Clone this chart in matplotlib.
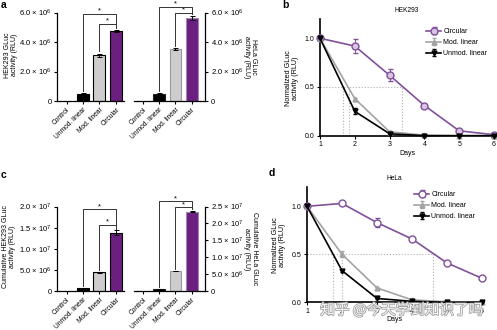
import numpy as np
import matplotlib
matplotlib.use('Agg')
import matplotlib.pyplot as plt
from matplotlib.ticker import FuncFormatter
import matplotlib.patheffects as pe

plt.rcParams['font.family'] = ['Liberation Sans', 'DejaVu Sans']
plt.rcParams['mathtext.fontset'] = 'custom'
plt.rcParams['mathtext.rm'] = 'Liberation Sans'
plt.rcParams['mathtext.default'] = 'regular'
plt.rcParams['axes.linewidth'] = 0.9

# ---- data ----
categories = ['Control', 'Unmod. linear', 'Mod. linear', 'Circular']
hek_act = [0, 0.50e6, 3.09e6, 4.75e6]
hek_act_err = [0, 0.03e6, 0.12e6, 0.06e6]
hela_act = [0, 0.50e6, 3.53e6, 5.64e6]
hela_act_err = [0, 0.03e6, 0.05e6, 0.12e6]
hek_cum = [0, 0.63e6, 4.45e6, 1.375e7]
hek_cum_err = [0, 0.03e6, 0.12e6, 0.6e6]
hela_cum = [0, 0.62e6, 5.9e6, 2.35e7]
hela_cum_err = [0, 0.03e6, 0.12e6, 0.2e6]

days = [1, 2, 3, 4, 5, 6]
hek_circ = [1.0, 0.92, 0.62, 0.31, 0.05, 0.01]
hek_circ_err = [0, 0.07, 0.06, 0.01, 0.01, 0]
hek_mod = [1.0, 0.38, 0.04, 0.005, 0.0, 0.0]
hek_mod_err = [0, 0.01, 0.005, 0, 0, 0]
hek_unmod = [1.0, 0.25, 0.02, 0.0, 0.0, 0.0]
hek_unmod_err = [0, 0.03, 0.005, 0, 0, 0]
hek_half = [1.65, 1.83, 3.37]      # unmod, mod, circular half-life (days)

hela_circ = [1.0, 1.03, 0.83, 0.66, 0.41, 0.25]
hela_circ_err = [0, 0.01, 0.05, 0.01, 0.01, 0.01]
hela_mod = [1.0, 0.50, 0.15, 0.025, 0.005, 0.0]
hela_mod_err = [0, 0.03, 0.01, 0.005, 0, 0]
hela_unmod = [1.0, 0.33, 0.04, 0.01, 0.0, 0.0]
hela_unmod_err = [0, 0.01, 0.005, 0, 0, 0]
hela_half = [1.73, 2.01, 4.59]

W, H = 497, 330
fig = plt.figure(figsize=(W/100, H/100), dpi=100)

def px_axes(x0, y0, x1, y1):
    return fig.add_axes([x0/W, 1-y1/H, (x1-x0)/W, (y1-y0)/H])

def sci(v, pos):
    if v == 0:
        return '0'
    e = int(np.floor(np.log10(v) + 1e-9))
    return '%.1f \u00d7 10$^{%d}$' % (v/10**e, e)

purple = '#6b1f7f'
line_purple = '#80509a'
fs_bar = 5.5
fs_small = 5.0

def bar_panel(ax, vals, errs, ymax, step, right=False, brackets=(0.95, 0.82)):
    x = np.arange(len(categories))
    if right:
        edges = ['#222222', '#9a9a9a', '#a884b6']
    else:
        edges = ['black', 'black', 'black']
    colors = ['white', 'black', '#cdcdcd', purple]
    ax.bar(x, vals, width=0.72, color=colors,
           edgecolor=['white'] + edges, linewidth=0.8, zorder=2)
    ax.errorbar(x[1:], vals[1:], yerr=errs[1:], fmt='none', ecolor='black',
                elinewidth=0.7, capsize=1.8, capthick=0.7, zorder=3)
    ax.set_ylim(0, ymax)
    ax.set_yticks(np.arange(0, ymax + 1, step))
    ax.yaxis.set_major_formatter(FuncFormatter(sci))
    ax.set_xticks(x)
    ax.set_xticklabels(categories, rotation=45, ha='right', rotation_mode='anchor',
                       fontsize=4.8)
    ax.tick_params(axis='y', labelsize=fs_bar, length=2.5, width=0.8, pad=1.5)
    ax.tick_params(axis='x', length=2.5, width=0.8, pad=1.2)
    ax.spines['top'].set_visible(False)
    if right:
        ax.spines['left'].set_visible(False)
        ax.yaxis.tick_right()
        ax.set_xlim(-0.55, 3.82)
    else:
        ax.spines['right'].set_visible(False)
        ax.set_xlim(-0.58, 3.5)
    # significance brackets
    hi, lo = brackets
    for (i, h) in [(1, hi), (2, lo)]:
        y_top = h * ymax
        yl = vals[i] + errs[i] + 0.025 * ymax
        yr = vals[3] + errs[3] + 0.02 * ymax
        ax.plot([i, i, 3, 3], [yl, y_top, y_top, yr], color='#333333',
                lw=0.7, clip_on=False, zorder=4)
        ax.text((i + 3) / 2, y_top - 0.01 * ymax, '*', ha='center', va='bottom',
                fontsize=fs_bar, clip_on=False)

ax_a1 = px_axes(57, 12.5, 124, 101)
bar_panel(ax_a1, hek_act, hek_act_err, 6e6, 2e6, brackets=(0.985, 0.87))
ax_a2 = px_axes(134, 12.5, 205, 101)
bar_panel(ax_a2, hela_act, hela_act_err, 6e6, 2e6, right=True, brackets=(1.065, 0.995))

ax_c1 = px_axes(57, 206.5, 124, 291)
bar_panel(ax_c1, hek_cum, hek_cum_err, 2e7, 5e6, brackets=(0.965, 0.785))
ax_c2 = px_axes(134, 206.5, 205, 291)
bar_panel(ax_c2, hela_cum, hela_cum_err, 2.5e7, 5e6, right=True, brackets=(1.06, 0.99))

def decay_panel(ax, circ, circ_e, mod, mod_e, unmod, unmod_e, half, title, circ_face):
    # half-life guide lines
    ax.plot([1, half[2]], [0.5, 0.5], color='#b0b0b0', ls=':', lw=0.8, zorder=1)
    for h in half:
        ax.plot([h, h], [0, 0.5], color='#b0b0b0', ls=':', lw=0.8, zorder=1)
    ax.errorbar(days, circ, yerr=circ_e, color=line_purple, lw=1.2, marker='o',
                ms=5, mfc=circ_face, mec=line_purple, mew=1.0, capsize=1.8,
                elinewidth=0.7, label='Circular', clip_on=False, zorder=3)
    ax.errorbar(days, mod, yerr=mod_e, color='#a3a3a3', lw=1.2, marker='^',
                ms=3.5, capsize=1.5, elinewidth=0.7, label='Mod. linear',
                clip_on=False, zorder=4)
    ax.errorbar(days, unmod, yerr=unmod_e, color='black', lw=1.2, marker='v',
                ms=3.5, capsize=1.5, elinewidth=0.7, label='Unmod. linear',
                clip_on=False, zorder=5)
    ax.set_xlim(1, 6)
    ax.set_ylim(0, 1.2)
    ax.set_xticks(days)
    ax.set_yticks([0, 0.5, 1.0])
    ax.set_yticklabels(['0.0', '0.5', '1.0'])
    ax.spines['top'].set_visible(False)
    ax.spines['right'].set_visible(False)
    ax.spines['left'].set_linewidth(1.2)
    ax.spines['bottom'].set_linewidth(1.2)
    ax.tick_params(axis='both', labelsize=fs_small, length=2.5, width=0.8, pad=1.5)
    ax.set_xlabel('Days', fontsize=fs_small, labelpad=1)
    ax.set_title(title, fontsize=4.8, pad=5)

ax_b = px_axes(320, 18.8, 494, 135.7)
decay_panel(ax_b, hek_circ, hek_circ_err, hek_mod, hek_mod_err, hek_unmod,
            hek_unmod_err, hek_half, 'HEK293', '#d9c3e0')
ax_d = px_axes(307, 187.1, 482, 302.3)
decay_panel(ax_d, hela_circ, hela_circ_err, hela_mod, hela_mod_err, hela_unmod,
            hela_unmod_err, hela_half, 'HeLa', 'white')

for ax, (lx, ly) in [(ax_b, (426, 28)), (ax_d, (414, 191))]:
    ax.legend(loc='upper left', bbox_to_anchor=(lx/W, 1-ly/H),
              bbox_transform=fig.transFigure, frameon=False, fontsize=fs_small,
              borderpad=0, borderaxespad=0, handlelength=2.2,
              handletextpad=0.3, labelspacing=0.6)

# axis titles
def ylab(x, y, s, rot, size=5.0):
    fig.text(x/W, 1-y/H, s, rotation=rot, ha='center', va='center',
             multialignment='center', fontsize=size, linespacing=1.1)

ylab(11, 55, 'HEK293 GLuc\nactivity (RLU)', 90)
ylab(250, 57, 'HeLa GLuc\nactivity (RLU)', 270)
ylab(9, 247, 'Cumulative HEK293 GLuc\nactivity (RLU)', 90)
ylab(250.5, 249, 'Cumulative HeLa GLuc\nactivity (RLU)', 270)
ylab(292, 78, 'Normalized GLuc\nactivity (RLU)', 90, 5.2)
ylab(279, 245, 'Normalized GLuc\nactivity (RLU)', 90, 5.2)

for s, x, y in [('a', 3.5, 5), ('b', 285.5, 5), ('c', 3.5, 175), ('d', 271.5, 172.5)]:
    fig.text(x/W, 1-y/H, s, fontsize=7.5, fontweight='bold', ha='center', va='center')

wm = fig.text(402/W, 1-310/H, '知乎 @今天学到知识了吗', fontsize=10.5, color='white',
              ha='center', va='center', alpha=0.9,
              family=['Noto Sans CJK SC', 'DejaVu Sans'], zorder=10)
wm.set_path_effects([pe.withStroke(linewidth=1.2, foreground='#9a9a9a')])

fig.savefig('out.png', dpi=100)
